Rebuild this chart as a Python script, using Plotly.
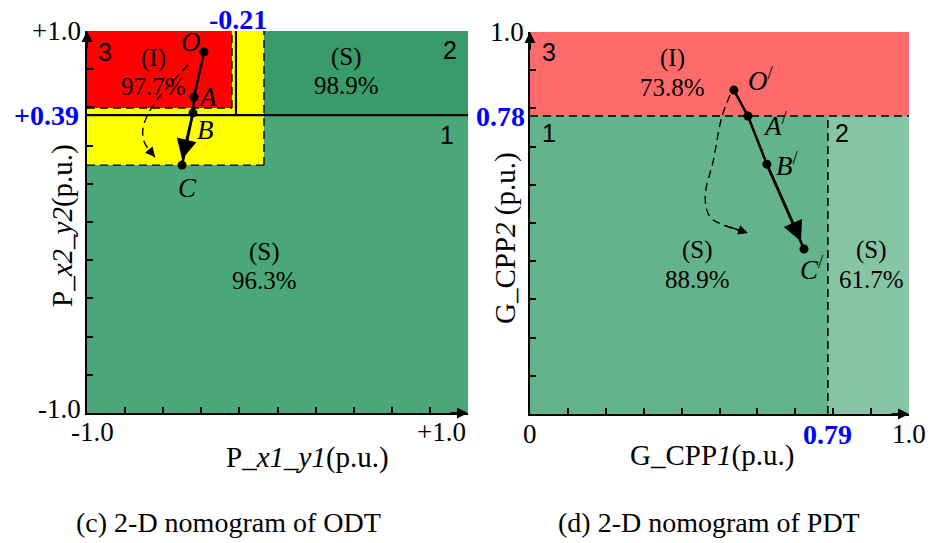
import plotly.graph_objects as go

# ---------------- data (schematic coordinates) -------------
# left panel (c): ODT nomogram, axes -1..1
odt_red_x = [-1.0, -0.239]
odt_red_y = [0.597, 1.0]
odt_yellow_x = [-1.0, -0.071]
odt_yellow_y = [0.298, 1.0]
odt_reg2_x = [-0.071, 1.0]
odt_reg2_y = [0.56, 1.0]
odt_solid_vx = -0.218          # position of the "-0.21" boundary
odt_solid_hy = 0.56            # position of the "+0.39" boundary
odt_pts_name = ["O", "A", "B", "C"]
odt_pts_x = [-0.386, -0.438, -0.444, -0.501]
odt_pts_y = [0.890, 0.654, 0.571, 0.298]
odt_curve_x = [-0.470, -0.580, -0.659, -0.706, -0.700, -0.672, -0.643]
odt_curve_y = [0.822, 0.702, 0.602, 0.492, 0.420, 0.375, 0.340]
odt_ticks = [-1.0, -0.8, -0.6, -0.4, -0.2, 0.0, 0.2, 0.4, 0.6, 0.8, 1.0]

# right panel (d): PDT nomogram, axes 0..1
pdt_thr_x = 0.786
pdt_thr_y = 0.78
pdt_pts_name = ["O", "A", "B", "C"]
pdt_pts_x = [0.538, 0.575, 0.625, 0.723]
pdt_pts_y = [0.848, 0.780, 0.654, 0.432]
pdt_curve_x = [0.528, 0.506, 0.484, 0.462, 0.475, 0.510, 0.575]
pdt_curve_y = [0.835, 0.777, 0.665, 0.568, 0.516, 0.495, 0.474]
pdt_ticks = [0.0, 0.1, 0.2, 0.3, 0.4, 0.5, 0.6, 0.7, 0.8, 0.9, 1.0]

# region labels: (class, share, x, y of class line)
odt_regions = [("(I)", "97.7%", -0.65, 0.859), ("(S)", "98.9%", 0.36, 0.865), ("(S)", "96.3%", -0.07, -0.157)]
pdt_regions = [("(I)", "73.8%", 0.375, 0.932), ("(S)", "88.9%", 0.443, 0.429), ("(S)", "61.7%", 0.902, 0.429)]
odt_numbers = [("3", -0.905, 0.89), ("2", 0.906, 0.90), ("1", 0.89, 0.455)]
pdt_numbers = [("3", 0.05, 0.948), ("1", 0.05, 0.736), ("2", 0.823, 0.736)]

# ---------------- styling ---------------------------------------------------------
SERIF = "Liberation Serif"
SANS = "Liberation Sans"
C_RED = "#ff0000"
C_YEL = "#ffff00"
C_G1 = "#4aa77a"
C_G2 = "#399a6a"
C_PRED = "#ff6b6b"
C_PG1 = "#63b48d"
C_PG2 = "#85c5a5"
DASH = "8px,5px"

W, H = 930, 543
L_dom_x = [87 / W, 468 / W]
L_dom_y = [1 - 413 / H, 1 - 31 / H]
R_dom_x = [530 / W, 909 / W]
R_dom_y = [1 - 414 / H, 1 - 32 / H]

fig = go.Figure()
shapes = []
ann = []


def rect(xr, yr, x0, x1, y0, y1, color):
    shapes.append(dict(type="rect", xref=xr, yref=yr, x0=x0, x1=x1, y0=y0, y1=y1,
                       fillcolor=color, line=dict(width=0), layer="below"))


def seg(xr, yr, x0, y0, x1, y1, dash="solid", width=1.6):
    shapes.append(dict(type="line", xref=xr, yref=yr, x0=x0, y0=y0, x1=x1, y1=y1,
                       line=dict(color="black", width=width, dash=dash), layer="above"))


def text(xr, yr, x, y, t, size=24, font=SERIF, color="black", **kw):
    d = dict(xref=xr, yref=yr, x=x, y=y, text=t, showarrow=False,
             xanchor="center", yanchor="middle",
             font=dict(family=font, size=size, color=color))
    d.update(kw)
    ann.append(d)


def arrowhead(xr, yr, x, y, ax, ay, size=1.3, width=2):
    ann.append(dict(xref=xr, yref=yr, axref=xr, ayref=yr, x=x, y=y, ax=ax, ay=ay,
                    text="", showarrow=True, arrowhead=2, arrowsize=size,
                    arrowwidth=width, arrowcolor="black"))


# ----- left panel regions
rect("x", "y", -1, 1, -1, 1, C_G1)
rect("x", "y", odt_reg2_x[0], odt_reg2_x[1], odt_reg2_y[0], odt_reg2_y[1], C_G2)
rect("x", "y", odt_yellow_x[0], odt_yellow_x[1], odt_yellow_y[0], odt_yellow_y[1], C_YEL)
rect("x", "y", odt_red_x[0], odt_red_x[1], odt_red_y[0], odt_red_y[1], C_RED)
seg("x", "y", odt_red_x[1], odt_red_y[0], odt_red_x[1], 1, dash=DASH, width=1.4)
seg("x", "y", -1, odt_red_y[0], odt_red_x[1], odt_red_y[0], dash=DASH, width=1.4)
seg("x", "y", odt_yellow_x[1], odt_yellow_y[0], odt_yellow_x[1], 1, dash=DASH, width=1.4)
seg("x", "y", -1, odt_yellow_y[0], odt_yellow_x[1], odt_yellow_y[0], dash=DASH, width=1.4)
seg("x", "y", odt_solid_vx, odt_solid_hy, odt_solid_vx, 1, width=2.2)
seg("x", "y", -1, odt_solid_hy, 1, odt_solid_hy, width=2.2)

# ----- right panel regions
rect("x2", "y2", 0, 1, 0, 1, C_PG1)
rect("x2", "y2", pdt_thr_x, 1, 0, pdt_thr_y, C_PG2)
rect("x2", "y2", 0, 1, pdt_thr_y, 1, C_PRED)
seg("x2", "y2", 0, pdt_thr_y, 1, pdt_thr_y, dash=DASH, width=1.6)
seg("x2", "y2", pdt_thr_x, 0, pdt_thr_x, pdt_thr_y, dash=DASH, width=1.6)

# ----- trajectories
fig.add_trace(go.Scatter(x=odt_curve_x, y=odt_curve_y, mode="lines", xaxis="x", yaxis="y",
                         line=dict(color="black", width=1.4, dash=DASH, shape="spline"),
                         hoverinfo="skip", showlegend=False))
fig.add_trace(go.Scatter(x=pdt_curve_x, y=pdt_curve_y, mode="lines", xaxis="x2", yaxis="y2",
                         line=dict(color="black", width=1.4, dash=DASH, shape="spline"),
                         hoverinfo="skip", showlegend=False))
fig.add_trace(go.Scatter(x=odt_pts_x, y=odt_pts_y, mode="lines+markers", xaxis="x", yaxis="y",
                         line=dict(color="black", width=2.5), marker=dict(size=9, color="black"),
                         hoverinfo="skip", showlegend=False))
fig.add_trace(go.Scatter(x=pdt_pts_x, y=pdt_pts_y, mode="lines+markers", xaxis="x2", yaxis="y2",
                         line=dict(color="black", width=2.5), marker=dict(size=9, color="black"),
                         hoverinfo="skip", showlegend=False))

# arrow heads of trajectories
arrowhead("x", "y", odt_pts_x[3], odt_pts_y[3] + 0.03, odt_pts_x[2], odt_pts_y[2], size=1.6, width=2.5)
arrowhead("x2", "y2", pdt_pts_x[3] - 0.008, pdt_pts_y[3] + 0.02, pdt_pts_x[2], pdt_pts_y[2], size=1.6, width=2.5)
arrowhead("x", "y", odt_curve_x[-1], odt_curve_y[-1], odt_curve_x[-2], odt_curve_y[-2], size=1.3, width=1.5)
arrowhead("x2", "y2", pdt_curve_x[-1], pdt_curve_y[-1], pdt_curve_x[-2], pdt_curve_y[-2], size=1.3, width=1.5)

# axis arrow heads
arrowhead("x", "y", -1, 1.0, -1, 0.9, size=1.1, width=2)
arrowhead("x", "y", 1.0, -1, 0.9, -1, size=1.1, width=2)
arrowhead("x2", "y2", 0, 1.0, 0, 0.95, size=1.1, width=2)
arrowhead("x2", "y2", 1.0, 0, 0.95, 0, size=1.1, width=2)

# point labels
odt_lbl_off = [(-0.07, 0.05), (0.07, 0.0), (0.065, -0.09), (0.03, -0.12)]
for n, x, y, (dx, dy) in zip(odt_pts_name, odt_pts_x, odt_pts_y, odt_lbl_off):
    text("x", "y", x + dx, y + dy, f"<i>{n}</i>", size=27)
pdt_lbl_off = [(0.072, 0.03), (0.072, -0.02), (0.055, 0.0), (0.02, -0.05)]
for n, x, y, (dx, dy) in zip(pdt_pts_name, pdt_pts_x, pdt_pts_y, pdt_lbl_off):
    text("x2", "y2", x + dx, y + dy, f"<i>{n}</i><sup>/</sup>", size=27)

# region labels
for a, b, x, y in odt_regions:
    text("x", "y", x, y, a, size=25)
    text("x", "y", x, y - 0.15, b, size=25)
for a, b, x, y in pdt_regions:
    text("x2", "y2", x, y, a, size=25)
    text("x2", "y2", x, y - 0.077, b, size=25)
for t, x, y in odt_numbers:
    text("x", "y", x, y, t, size=25, font=SANS)
for t, x, y in pdt_numbers:
    text("x2", "y2", x, y, t, size=25, font=SANS)

# tick labels
TK = 27
BLUE = "#0000ff"
text("x", "y", -1, 1.0, "+1.0", size=TK, xanchor="right", xshift=-4)
text("x", "y", -1, -1.0, "-1.0", size=TK, xanchor="right", xshift=-4, yshift=4)
text("x", "y", -1, -1, "-1.0", size=TK, xanchor="left", yanchor="top", xshift=-18, yshift=-2)
text("x", "y", 1, -1, "+1.0", size=TK, xanchor="right", yanchor="top", yshift=-2)
text("x", "y", -1, odt_solid_hy, "<b>+0.39</b>", size=TK + 1, color=BLUE, xanchor="right", xshift=-6)
text("x", "y", odt_solid_vx, 1, "<b>-0.21</b>", size=TK + 1, color=BLUE, yanchor="bottom", yshift=-6, xshift=2)
text("x2", "y2", 0, 1.0, "1.0", size=TK, xanchor="right", xshift=-4)
text("x2", "y2", 0, pdt_thr_y, "<b>0.78</b>", size=TK + 1, color=BLUE, xanchor="right", xshift=-3)
text("x2", "y2", 0, 0, "0", size=TK, yanchor="top", yshift=-3)
text("x2", "y2", pdt_thr_x, 0, "<b>0.79</b>", size=TK + 1, color=BLUE, yanchor="top", yshift=-3)
text("x2", "y2", 1, 0, "1.0", size=TK, yanchor="top", yshift=-3)

# axis titles and captions
TT = 29


def ptext(x, y, t, size, angle=0):
    ann.append(dict(xref="paper", yref="paper", x=x / W, y=1 - y / H, showarrow=False,
                    xanchor="center", yanchor="middle", textangle=angle,
                    text=t, font=dict(family=SERIF, size=size, color="black")))


ptext(307, 457, "P_<i>x1_y1</i>(p.u.)", TT)
ptext(62, 226, "P_<i>x2_y2</i>(p.u.)", TT, -90)
ptext(712, 455, "G_CPP<i>1</i>(p.u.)", TT)
ptext(505, 238, "G_CPP<i>2</i> (p.u.)", TT, -90)

ptext(228, 522, "(c) 2-D nomogram of ODT", 28)
ptext(709, 522, "(d) 2-D nomogram of PDT", 28)

axis_common = dict(showgrid=False, zeroline=False, showline=True, linecolor="black", linewidth=2,
                   ticks="inside", ticklen=6, tickwidth=1.5, tickcolor="black",
                   showticklabels=False, fixedrange=True)

fig.update_layout(
    width=W, height=H, margin=dict(l=0, r=0, t=0, b=0),
    paper_bgcolor="white", plot_bgcolor="rgba(0,0,0,0)",
    font=dict(family=SERIF, color="black"),
    xaxis=dict(domain=L_dom_x, range=[-1, 1], anchor="y", tickvals=odt_ticks, **axis_common),
    yaxis=dict(domain=L_dom_y, range=[-1, 1], anchor="x", tickvals=odt_ticks, **axis_common),
    xaxis2=dict(domain=R_dom_x, range=[0, 1], anchor="y2", tickvals=pdt_ticks, **axis_common),
    yaxis2=dict(domain=R_dom_y, range=[0, 1], anchor="x2", tickvals=pdt_ticks, **axis_common),
    shapes=shapes, annotations=ann, showlegend=False,
)

fig.write_html("out.html", config={"displayModeBar": False},
               post_script="document.body.style.margin='0';")
